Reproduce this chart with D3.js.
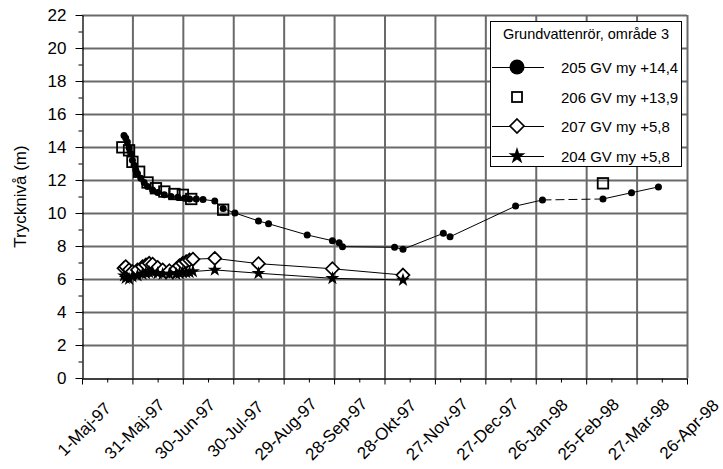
<!DOCTYPE html>
<html>
<head>
<meta charset="utf-8">
<script src="https://cdn.jsdelivr.net/npm/d3@7"></script>
<style>
  html, body { margin: 0; padding: 0; background: #fff; }
  svg { display: block; font-family: "Liberation Sans", Arial, sans-serif; }
</style>
</head>
<body>
<svg id="chart" width="723" height="469"></svg>
<script>
// Tick dates on the time axis (every 30 days) and their labels
const tickDates = ["1997-05-01","1997-05-31","1997-06-30","1997-07-30","1997-08-29","1997-09-28",
  "1997-10-28","1997-11-27","1997-12-27","1998-01-26","1998-02-25","1998-03-27","1998-04-26"];
const tickLabels = ["1-Maj-97","31-Maj-97","30-Jun-97","30-Jul-97","29-Aug-97","28-Sep-97",
  "28-Okt-97","27-Nov-97","27-Dec-97","26-Jan-98","25-Feb-98","27-Mar-98","26-Apr-98"];
const yTicks = [0,2,4,6,8,10,12,14,16,18,20,22];

// 205 GV my +14,4
const dates205 = ["1997-05-26","1997-05-27","1997-05-28","1997-05-29","1997-05-30","1997-05-31",
  "1997-06-01","1997-06-02","1997-06-03","1997-06-05","1997-06-07","1997-06-09","1997-06-12",
  "1997-06-15","1997-06-19","1997-06-23","1997-06-27","1997-07-01","1997-07-04","1997-07-08",
  "1997-07-12","1997-07-19","1997-07-24","1997-07-31","1997-08-14","1997-08-20","1997-09-12",
  "1997-09-27","1997-10-01","1997-10-03","1997-11-03","1997-11-08","1997-12-02","1997-12-06",
  "1998-01-14","1998-01-30","1998-03-07","1998-03-24","1998-04-09"];
const values205 = [14.7,14.55,14.3,13.95,13.6,13.2,12.9,12.6,12.4,12.1,11.85,11.6,11.4,11.25,11.1,
  11.0,10.95,10.9,10.85,10.85,10.82,10.73,10.27,10.0,9.52,9.35,8.67,8.32,8.2,7.96,7.92,7.8,
  8.77,8.56,10.42,10.79,10.85,11.23,11.58];
// segment drawn dashed (between these two readings)
const dashedFrom205 = "1998-01-30";

// 206 GV my +13,9
const dates206 = ["1997-05-25","1997-05-29","1997-05-31","1997-06-04","1997-06-09","1997-06-14",
  "1997-06-19","1997-06-25","1997-06-30","1997-07-05","1997-07-24","1998-03-07"];
const values206 = [13.98,13.8,13.1,12.5,11.85,11.5,11.3,11.15,11.1,10.85,10.2,11.8];

// 207 GV my +5,8 and 204 GV my +5,8 (same reading dates)
const dates207 = ["1997-05-26","1997-05-27","1997-05-29","1997-05-31","1997-06-03","1997-06-06",
  "1997-06-08","1997-06-10","1997-06-12","1997-06-15","1997-06-18","1997-06-22","1997-06-26",
  "1997-06-28","1997-06-30","1997-07-02","1997-07-04","1997-07-06","1997-07-19","1997-08-14",
  "1997-09-27","1997-11-08"];
const values207 = [6.65,6.75,6.55,6.45,6.55,6.75,6.85,6.95,6.9,6.7,6.55,6.5,6.6,6.8,6.95,7.05,
  7.15,7.2,7.25,6.93,6.62,6.24];
const dates204 = dates207;
const values204 = [6.2,6.05,6.0,6.15,6.2,6.3,6.35,6.4,6.4,6.35,6.3,6.3,6.3,6.35,6.4,6.4,6.4,
  6.45,6.55,6.35,6.04,5.94];

const legendTitle = "Grundvattenrör, område 3";
const legendNames = ["205 GV my +14,4","206 GV my +13,9","207 GV my +5,8","204 GV my +5,8"];

const parse = d3.utcParse("%Y-%m-%d");
const svg = d3.select("#chart");
const FONT = "Liberation Sans, Arial, sans-serif";

const plotLeft = 82, plotRight = 687, plotTop = 15, plotBottom = 378;
const x = d3.scaleUtc().domain([parse(tickDates[0]), parse(tickDates[tickDates.length - 1])]).range([plotLeft, plotRight]);
const y = d3.scaleLinear().domain([0, 22]).range([plotBottom, plotTop]);

const tickDateObjs = tickDates.map(parse);
const minorDates = tickDateObjs.slice(1).map((d, i) => new Date((d.getTime() + tickDateObjs[i].getTime()) / 2));

// grid drawn as long axis ticks
const gridColor = "#6a6a6a";
const gridY = svg.append("g").attr("transform", `translate(${plotLeft},0)`)
  .call(d3.axisLeft(y).tickValues(yTicks.filter(v => v > 0)).tickSize(-(plotRight - plotLeft)).tickFormat(""));
gridY.select(".domain").remove();
gridY.selectAll(".tick line").attr("stroke", gridColor).attr("stroke-width", 2);
const gridX = svg.append("g").attr("transform", `translate(0,${plotBottom})`)
  .call(d3.axisBottom(x).tickValues(tickDateObjs.slice(1)).tickSize(-(plotBottom - plotTop)).tickFormat(""));
gridX.select(".domain").remove();
gridX.selectAll(".tick line").attr("stroke", gridColor).attr("stroke-width", 2);

// y axis
const yAxis = d3.axisLeft(y).tickValues(yTicks).tickSize(7).tickPadding(9).tickSizeOuter(0);
const gy = svg.append("g").attr("transform", `translate(${plotLeft + 0.5},0)`).call(yAxis);
gy.selectAll(".tick line").attr("stroke", "#000");
gy.select(".domain").attr("stroke", "#000").attr("stroke-width", 1.3);
gy.selectAll("text").attr("font-size", 17).attr("font-family", FONT).attr("fill", "#000");
const gyMinor = svg.append("g").attr("transform", `translate(${plotLeft + 0.5},0)`)
  .call(d3.axisLeft(y).tickValues(d3.range(1, 22, 2)).tickSize(4).tickFormat(""));
gyMinor.select(".domain").remove();
gyMinor.selectAll(".tick line").attr("stroke", "#000");

// x axis
const xAxis = d3.axisBottom(x).tickValues(tickDateObjs).tickSize(6).tickFormat("").tickSizeOuter(0);
const gx = svg.append("g").attr("transform", `translate(0,${plotBottom + 0.5})`).call(xAxis);
gx.select(".domain").attr("stroke", "#000").attr("stroke-width", 1.3);
gx.selectAll(".tick line").attr("stroke", "#000");
const gxMinor = svg.append("g").attr("transform", `translate(0,${plotBottom + 0.5})`)
  .call(d3.axisBottom(x).tickValues(minorDates).tickSize(4).tickFormat(""));
gxMinor.select(".domain").remove();
gxMinor.selectAll(".tick line").attr("stroke", "#000");

// rotated date labels
svg.append("g").selectAll("text").data(tickDateObjs).join("text")
  .attr("transform", d => `translate(${x(d) + 2},429) rotate(-45)`)
  .attr("text-anchor", "middle").attr("dy", "0.35em")
  .attr("font-size", 17).attr("font-family", FONT).attr("fill", "#000")
  .text((d, i) => tickLabels[i]);

// y title
svg.append("text").attr("transform", `translate(26,${(plotTop + plotBottom) / 2}) rotate(-90)`)
  .attr("text-anchor", "middle").attr("font-size", 17).attr("font-family", FONT)
  .text("Trycknivå (m)");

// data
const s205 = dates205.map((d, i) => ({ d: parse(d), v: values205[i] }));
const s206 = dates206.map((d, i) => ({ d: parse(d), v: values206[i] }));
const s207 = dates207.map((d, i) => ({ d: parse(d), v: values207[i] }));
const s204 = dates204.map((d, i) => ({ d: parse(d), v: values204[i] }));

const line = d3.line().x(p => x(p.d)).y(p => y(p.v));
const splitIdx = dates205.indexOf(dashedFrom205);
svg.append("path").attr("d", line(s205.slice(0, splitIdx + 1)))
  .attr("fill", "none").attr("stroke", "#000").attr("stroke-width", 1);
svg.append("path").attr("d", line(s205.slice(splitIdx, splitIdx + 2)))
  .attr("fill", "none").attr("stroke", "#000").attr("stroke-width", 1).attr("stroke-dasharray", "9,4");
svg.append("path").attr("d", line(s205.slice(splitIdx + 1)))
  .attr("fill", "none").attr("stroke", "#000").attr("stroke-width", 1);
svg.append("g").selectAll("circle").data(s205).join("circle")
  .attr("cx", p => x(p.d)).attr("cy", p => y(p.v)).attr("r", 3.5).attr("fill", "#000");

// squares (markers only)
const sq = 10.5;
svg.append("g").selectAll("rect").data(s206).join("rect")
  .attr("x", p => x(p.d) - sq / 2).attr("y", p => y(p.v) - sq / 2)
  .attr("width", sq).attr("height", sq)
  .attr("fill", "none").attr("stroke", "#000").attr("stroke-width", 1.8);

// diamonds
const diamond = r => `M0,${-r}L${r},0L0,${r}L${-r},0Z`;
svg.append("path").attr("d", line(s207)).attr("fill", "none").attr("stroke", "#000").attr("stroke-width", 1);
svg.append("g").selectAll("path").data(s207).join("path")
  .attr("transform", p => `translate(${x(p.d)},${y(p.v)})`).attr("d", diamond(6.5))
  .attr("fill", "#fff").attr("stroke", "#000").attr("stroke-width", 1.7);

// stars
const star = d3.symbol().type(d3.symbolStar);
svg.append("path").attr("d", line(s204)).attr("fill", "none").attr("stroke", "#000").attr("stroke-width", 1);
svg.append("g").selectAll("path").data(s204).join("path")
  .attr("transform", p => `translate(${x(p.d)},${y(p.v)})`).attr("d", star.size(60)())
  .attr("fill", "#000");

// legend
const lg = svg.append("g");
lg.append("rect").attr("x", 490.5).attr("y", 21.5).attr("width", 191).attr("height", 145)
  .attr("fill", "#fff").attr("stroke", "#000").attr("stroke-width", 1);
lg.append("text").attr("x", 586).attr("y", 39).attr("text-anchor", "middle")
  .attr("font-size", 14.5).attr("font-family", FONT).text(legendTitle);
const rowsY = [67, 97, 126, 156];
const symX = 517;
rowsY.forEach((ry, i) => {
  if (i !== 1) {
    lg.append("line").attr("x1", 492).attr("x2", 544).attr("y1", ry + 0.5).attr("y2", ry + 0.5)
      .attr("stroke", "#000").attr("stroke-width", 1);
  }
  if (i === 0) lg.append("circle").attr("cx", symX).attr("cy", ry).attr("r", 7.5).attr("fill", "#000");
  if (i === 1) lg.append("rect").attr("x", symX - 5).attr("y", ry - 5).attr("width", 10).attr("height", 10)
    .attr("fill", "#fff").attr("stroke", "#000").attr("stroke-width", 1.8);
  if (i === 2) lg.append("path").attr("transform", `translate(${symX},${ry})`).attr("d", diamond(7))
    .attr("fill", "#fff").attr("stroke", "#000").attr("stroke-width", 1.7);
  if (i === 3) lg.append("path").attr("transform", `translate(${symX},${ry})`).attr("d", star.size(90)())
    .attr("fill", "#000");
  lg.append("text").attr("x", 561).attr("y", ry + 5.5).attr("font-size", 15)
    .attr("font-family", FONT).text(legendNames[i]);
});
</script>
</body>
</html>
